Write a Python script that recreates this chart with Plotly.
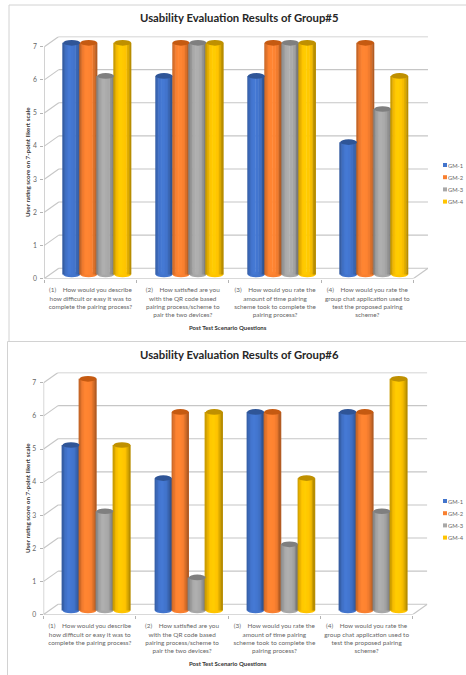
import plotly.graph_objects as go

W, H = 466, 675

series_names = ["GM-1", "GM-2", "GM-3", "GM-4"]
group5_scores = [[7, 6, 6, 4], [7, 7, 7, 7], [6, 7, 7, 5], [7, 7, 7, 6]]
group6_scores = [[5, 4, 6, 6], [7, 6, 6, 6], [3, 1, 2, 3], [5, 6, 4, 7]]
titles = ["Usability Evaluation Results of Group#5", "Usability Evaluation Results of Group#6"]
questions = [
    "(1)\u00a0\u00a0\u00a0\u00a0How would you describe<br>how difficult or easy it was to<br>complete the pairing process?",
    "(2)\u00a0\u00a0\u00a0\u00a0How satisfied are you<br>with the QR code based<br>pairing process/scheme to<br>pair the two devices?",
    "(3)\u00a0\u00a0\u00a0\u00a0How would you rate the<br>amount of time pairing<br>scheme took to complete the<br>pairing process?",
    "(4)\u00a0\u00a0\u00a0\u00a0How would you rate the<br>group chat application used to<br>test the proposed pairing<br>scheme?",
]
y_ticks = [0, 1, 2, 3, 4, 5, 6, 7]

body_colors = ["#4274CC", "#F98030", "#A8A8A8", "#FFC400"]
cap_colors = ["#2F5597", "#C55A11", "#7F7F7F", "#BF9000"]
# brightness across a cylinder, left edge to right edge
shading = [0.80, 0.90, 0.97, 1.02, 1.04, 1.04, 1.02, 1.0, 0.96, 0.86, 0.72]

GRID = "#c6c6c6"
AXIS = "#b4b4b4"
FRAME = "#d2d2d2"
TEXT = "#666666"
FONT = "Lato, Carlito, sans-serif"

BAR_W = 0.184
SHIFT = 0.073      # bars sit mid-way through the chart depth
DX, DY = 0.157, 0.31  # depth of the back wall in axis units
BASE = 0.12
CAP_H = 0.17


def shade(hex_color, k):
    rgb = [int(hex_color[i:i + 2], 16) for i in (1, 3, 5)]
    return "#%02x%02x%02x" % tuple(min(255, int(round(c * k))) for c in rgb)


fig = go.Figure()
shapes, annotations = [], []

panels = [
    dict(scores=group5_scores, title=titles[0], left=44.3, top=36.5, bottom=278.5, title_y=18,
         ytitle_y=162, xtitle_y=327, legend_y=165, legend_step=12.2, suffix=""),
    dict(scores=group6_scores, title=titles[1], left=43.6, top=372.5, bottom=614.5, title_y=354,
         ytitle_y=498, xtitle_y=663, legend_y=501, legend_step=12.2, suffix="2"),
]


def add_note(text, x, y, size, color=TEXT, bold=False, angle=0, xanchor="center"):
    annotations.append(dict(
        text=f"<b>{text}</b>" if bold else text, x=x / W, y=1 - y / H, xref="paper", yref="paper",
        showarrow=False, xanchor=xanchor, yanchor="middle", textangle=angle, borderpad=0, borderwidth=0,
        font=dict(family=FONT, size=size, color=color),
    ))


for p in panels:
    xref, yref = "x" + p["suffix"], "y" + p["suffix"]
    line = lambda x0, y0, x1, y1, color=GRID, width=1.1, layer="below": shapes.append(dict(
        type="line", xref=xref, yref=yref, x0=x0, y0=y0, x1=x1, y1=y1, layer=layer,
        line=dict(color=color, width=width)))

    # walls and floor of the 3-D box
    for v in y_ticks:
        line(DX, v + DY, 4 + DX, v + DY, width=1.6 if v == 7 else 1.1)
        line(0, v, DX, v + DY)
    line(0, 0, 0, 7, color=AXIS)
    line(0, 0, 4, 0, color=AXIS)
    line(4, 0, 4 + DX, DY)

    for j, vals in enumerate(p["scores"]):
        offset = SHIFT + (j - 1.5) * BAR_W
        centers = [i + 0.5 + offset for i in range(4)]
        strip_w = BAR_W / len(shading)
        for s, k in enumerate(shading):
            fig.add_bar(
                x=[c - BAR_W / 2 + (s + 0.5) * strip_w for c in centers], y=vals, base=BASE,
                width=strip_w * 1.25, marker=dict(color=shade(body_colors[j], k), line_width=0),
                xaxis=xref, yaxis=yref, showlegend=False, name=series_names[j], hoverinfo="skip",
            )
        for c, v in zip(centers, vals):
            # rounded foot behind the column, dark cap on top of it
            shapes.append(dict(type="circle", xref=xref, yref=yref, layer="below",
                               x0=c - BAR_W / 2, x1=c + BAR_W / 2,
                               y0=BASE - CAP_H / 2, y1=BASE + CAP_H / 2,
                               fillcolor=body_colors[j], line_width=0))
            shapes.append(dict(type="circle", xref=xref, yref=yref, layer="above",
                               x0=c - BAR_W / 2, x1=c + BAR_W / 2,
                               y0=v + BASE - CAP_H / 2, y1=v + BASE + CAP_H / 2,
                               fillcolor=cap_colors[j], line_width=0))

    add_note(p["title"], 239, p["title_y"], 11.3, color="#262626", bold=True)
    add_note("User rating score on 7-point likert scale", 27, p["ytitle_y"], 6.3,
             color="#333333", bold=True, angle=-90)
    add_note("Post Test Scenario Questions", 228, p["xtitle_y"], 6.0, color="#333333", bold=True)

    # compact key at the right-hand side
    for j, name in enumerate(series_names):
        ly = p["legend_y"] + j * p["legend_step"]
        shapes.append(dict(type="rect", xref="paper", yref="paper",
                           x0=443 / W, x1=447 / W, y0=1 - (ly + 2) / H, y1=1 - (ly - 2) / H,
                           fillcolor=body_colors[j], line_width=0))
        add_note(name, 447.5, ly, 5.8, xanchor="left")

    axis_id = p["suffix"]
    width_px = 92.3 * (4 + DX)
    fig.update_layout({
        f"xaxis{axis_id}": dict(
            domain=[p["left"] / W, (p["left"] + width_px) / W], range=[0, 4 + DX], automargin=False,
            anchor=yref, showgrid=False, zeroline=False, showline=False,
            tickmode="array", tickvals=[0.5, 1.5, 2.5, 3.5], ticktext=questions,
            ticks="outside", ticklen=4, tickcolor="rgba(0,0,0,0)", ticklabelstandoff=1,
            tickfont=dict(family=FONT, size=6.4, color=TEXT),
            minor=dict(tickmode="array", tickvals=[0, 1, 2, 3, 4], ticks="outside",
                       ticklen=3, tickcolor=AXIS, showgrid=False),
        ),
        f"yaxis{axis_id}": dict(
            domain=[1 - p["bottom"] / H, 1 - p["top"] / H], range=[0, 242 / 33.1], automargin=False,
            anchor=xref, showgrid=False, zeroline=False, showline=False,
            tickmode="array", tickvals=y_ticks, ticks="outside", ticklen=3, tickcolor=AXIS,
            ticklabelstandoff=2, tickfont=dict(family=FONT, size=6.8, color=TEXT),
        ),
    })

# outer chart frames
for x0, y0, x1, y1 in [(9, 5, W, 5), (9, 5, 9, 341), (7.5, 341.5, W, 341.5), (7.5, 341.5, 7.5, H)]:
    shapes.append(dict(type="line", xref="paper", yref="paper", x0=x0 / W, x1=x1 / W,
                       y0=1 - y0 / H, y1=1 - y1 / H, line=dict(color=FRAME, width=1)))

fig.update_layout(
    width=W, height=H, margin=dict(l=0, r=0, t=0, b=0), barmode="overlay",
    paper_bgcolor="white", plot_bgcolor="rgba(0,0,0,0)", showlegend=False,
    shapes=shapes, annotations=annotations, font=dict(family=FONT),
)
fig.write_html("out.html", config=dict(displayModeBar=False))
